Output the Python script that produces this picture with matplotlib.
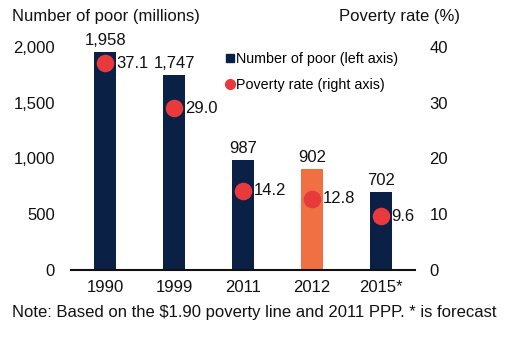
import matplotlib.pyplot as plt
from matplotlib.lines import Line2D

plt.rcParams['font.family'] = ['Liberation Sans', 'DejaVu Sans']

years = ["1990", "1999", "2011", "2012", "2015*"]
poor_millions = [1958, 1747, 987, 902, 702]
poverty_rate = [37.1, 29.0, 14.2, 12.8, 9.6]
left_ticks = [0, 500, 1000, 1500, 2000]
right_ticks = [0, 10, 20, 30, 40]

navy = "#0B2045"
orange = "#F07044"
red = "#E8393C"
bar_colors = [navy, navy, navy, orange, navy]
fs = 12

fig = plt.figure(figsize=(5.17, 3.43), dpi=100)
ax = fig.add_axes([71 / 517, (343 - 270) / 343, (415 - 71) / 517, (270 - 47) / 343])
ax2 = ax.twinx()

x = list(range(len(years)))
ax.bar(x, poor_millions, width=0.32, color=bar_colors, zorder=2)
ax.set_xlim(-0.5, 4.5)
ax.set_ylim(0, 2000)
ax2.set_ylim(0, 40)

for xi, v in zip(x, poor_millions):
    ax.annotate(f"{v:,}", (xi, v), xytext=(0, 3), textcoords="offset points",
                ha="center", va="bottom", fontsize=fs, color="#111111")

ax2.scatter(x, poverty_rate, s=160, color=red, zorder=3, linewidths=0)
for xi, v in zip(x, poverty_rate):
    ax2.annotate(f"{v:.1f}", (xi, v), xytext=(8, 0), textcoords="offset points",
                 ha="left", va="center", fontsize=fs, color="#111111")

ax.set_yticks(left_ticks)
ax.set_yticklabels([f"{t:,}" for t in left_ticks])
ax2.set_yticks(right_ticks)
ax.set_xticks(x)
ax.set_xticklabels(years)
for a in (ax, ax2):
    a.tick_params(axis="both", length=0, labelsize=fs, colors="#111111")
    for side in ("top", "left", "right", "bottom"):
        a.spines[side].set_visible(False)
ax.spines["bottom"].set_visible(True)
ax.spines["bottom"].set_linewidth(1.5)
ax.spines["bottom"].set_color("#111111")
ax.tick_params(axis="y", pad=11.5)
ax2.tick_params(axis="y", pad=10.5)
ax.tick_params(axis="x", pad=7)

fig.text(12 / 517, 1 - 17 / 343, "Number of poor (millions)", ha="left", va="center",
         fontsize=fs, color="#111111")
fig.text(460 / 517, 1 - 17 / 343, "Poverty rate (%)", ha="right", va="center",
         fontsize=fs, color="#111111")
fig.text(12 / 517, 1 - 313 / 343,
         "Note: Based on the $1.90 poverty line and 2011 PPP. * is forecast",
         ha="left", va="center", fontsize=fs, color="#111111")

handles = [
    Line2D([], [], marker="s", linestyle="none", markersize=6, color=navy),
    Line2D([], [], marker="o", linestyle="none", markersize=7, color=red),
]
ax.legend(handles, ["Number of poor (left axis)", "Poverty rate (right axis)"],
          loc="upper left", bbox_to_anchor=(219 / 517, 1 - 46 / 343),
          bbox_transform=fig.transFigure, frameon=False, fontsize=10.3,
          handletextpad=0.1, handlelength=0.7, labelspacing=0.85, borderaxespad=0)

fig.savefig("out.png", dpi=100)
